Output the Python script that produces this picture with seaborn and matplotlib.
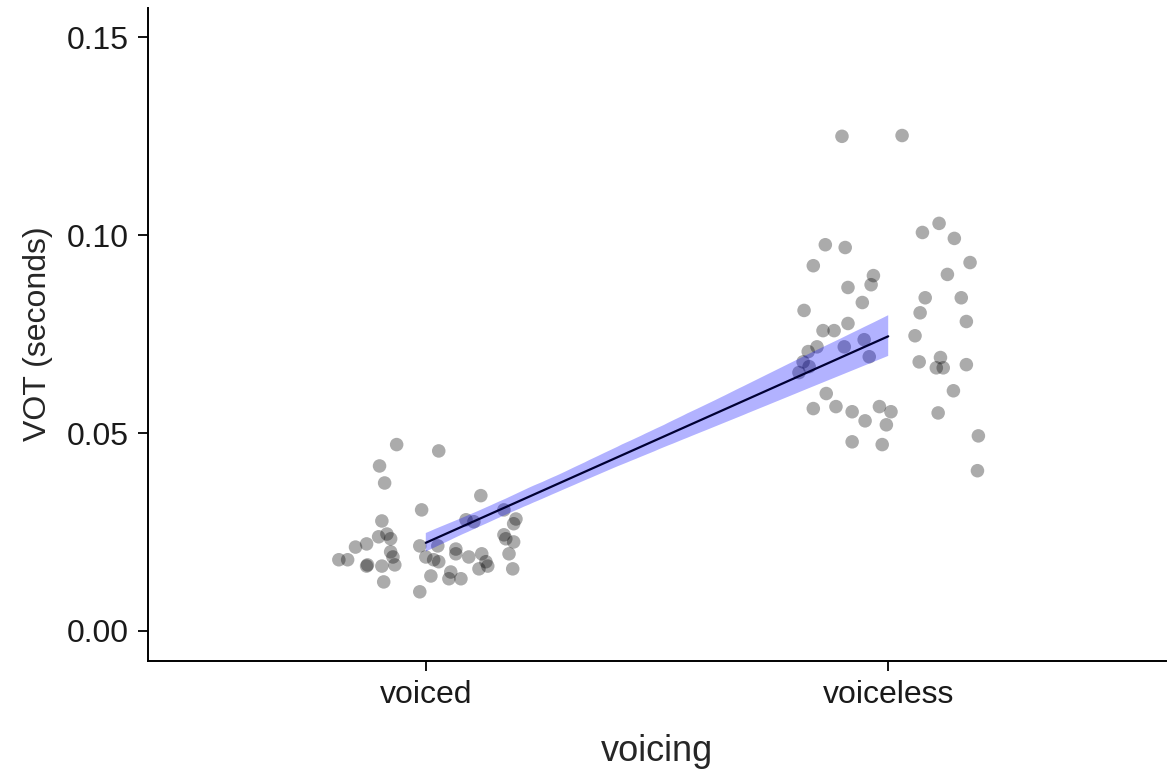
import numpy as np
import pandas as pd
import matplotlib
matplotlib.use('Agg')
import matplotlib.pyplot as plt
import seaborn as sns
from matplotlib.ticker import FormatStrFormatter

# Categories on the x axis
categories = ['voiced', 'voiceless']

# VOT values (seconds), with the horizontal jitter seen there
voiced_vot = [0.0471, 0.0417, 0.0374, 0.0306, 0.0278, 0.0238, 0.0245, 0.0233,
              0.0220, 0.0212, 0.0215, 0.0200, 0.0187, 0.0167, 0.0180, 0.0180,
              0.0164, 0.0167, 0.0164, 0.0124, 0.0099, 0.0455, 0.0342, 0.0281,
              0.0276, 0.0306, 0.0283, 0.0271, 0.0243, 0.0233, 0.0225, 0.0215,
              0.0207, 0.0195, 0.0195, 0.0187, 0.0175, 0.0164, 0.0187, 0.0180,
              0.0175, 0.0157, 0.0195, 0.0157, 0.0139, 0.0149, 0.0132, 0.0132]
voiced_jitter = [-0.063, -0.100, -0.089, -0.009, -0.095, -0.102, -0.084, -0.076,
                 -0.128, -0.152, -0.013, -0.076, -0.071, -0.067, -0.188, -0.169,
                 -0.128, -0.126, -0.095, -0.091, -0.013, 0.028, 0.119, 0.087,
                 0.104, 0.169, 0.195, 0.190, 0.169, 0.173, 0.190, 0.026,
                 0.065, 0.065, 0.121, 0.093, 0.130, 0.134, 0.000, 0.017,
                 0.028, 0.115, 0.180, 0.188, 0.011, 0.054, 0.050, 0.076]

voiceless_vot = [0.1250, 0.1252, 0.0976, 0.0969, 0.0923, 0.0898, 0.0875, 0.0868,
                 0.0830, 0.0810, 0.0777, 0.0759, 0.0759, 0.0718, 0.0706, 0.0718,
                 0.0736, 0.0693, 0.0680, 0.0668, 0.0653, 0.0600, 0.0562, 0.0567,
                 0.0554, 0.0531, 0.0567, 0.0554, 0.0521, 0.0478, 0.0471, 0.1007,
                 0.1030, 0.0992, 0.0931, 0.0901, 0.0842, 0.0842, 0.0804, 0.0782,
                 0.0746, 0.0680, 0.0691, 0.0665, 0.0665, 0.0673, 0.0607, 0.0551,
                 0.0493, 0.0405]
voiceless_jitter = [-0.100, 0.030, -0.136, -0.093, -0.162, -0.032, -0.037, -0.087,
                    -0.056, -0.182, -0.087, -0.141, -0.117, -0.154, -0.173, -0.095,
                    -0.052, -0.041, -0.184, -0.171, -0.193, -0.134, -0.162, -0.113,
                    -0.078, -0.050, -0.019, 0.006, -0.004, -0.078, -0.013, 0.074,
                    0.110, 0.143, 0.177, 0.128, 0.080, 0.158, 0.069, 0.169,
                    0.058, 0.067, 0.113, 0.104, 0.119, 0.169, 0.141, 0.108,
                    0.195, 0.193]

df = pd.DataFrame({
    'voicing': [categories[0]] * len(voiced_vot) + [categories[1]] * len(voiceless_vot),
    'vot': voiced_vot + voiceless_vot,
    'jitter': voiced_jitter + voiceless_jitter,
})
df['code'] = df['voicing'].map({c: i for i, c in enumerate(categories)})
df['xpos'] = df['code'] + df['jitter']

sns.set_style('ticks')
plt.rcParams['font.family'] = ['Liberation Sans', 'DejaVu Sans']

fig = plt.figure(figsize=(11.68, 7.7), dpi=100)
ax = fig.add_axes([0.127, 0.142, 0.871, 0.848])

# jittered points
sns.scatterplot(data=df, x='xpos', y='vot', ax=ax, color='black', alpha=0.33,
                s=95, edgecolor='none', legend=False, zorder=2)

# linear fit across the two categories with confidence band
sns.regplot(data=df, x='code', y='vot', ax=ax, scatter=False, color='blue',
            seed=1, line_kws={'color': '#000033', 'linewidth': 1.6, 'zorder': 4})
for coll in ax.collections[1:]:
    coll.set_facecolor('#0000ff')
    coll.set_edgecolor('none')
    coll.set_alpha(0.3)
    coll.set_zorder(3)

ax.set_xlim(-0.6, 1.6)
ax.set_ylim(-0.0075, 0.1575)
ax.set_xticks(range(len(categories)))
ax.set_xticklabels(categories)
ax.set_yticks([0.0, 0.05, 0.10, 0.15])
ax.yaxis.set_major_formatter(FormatStrFormatter('%.2f'))

ax.set_xlabel('voicing', fontsize=26, labelpad=17)
ax.set_ylabel('VOT (seconds)', fontsize=23, labelpad=10)
ax.tick_params(axis='both', labelsize=23, length=7, width=1.3,
               colors='black', labelcolor='#1a1a1a', pad=7)

sns.despine(ax=ax)
for side in ['left', 'bottom']:
    ax.spines[side].set_linewidth(1.4)
    ax.spines[side].set_color('black')

fig.savefig('out.png', dpi=100)
